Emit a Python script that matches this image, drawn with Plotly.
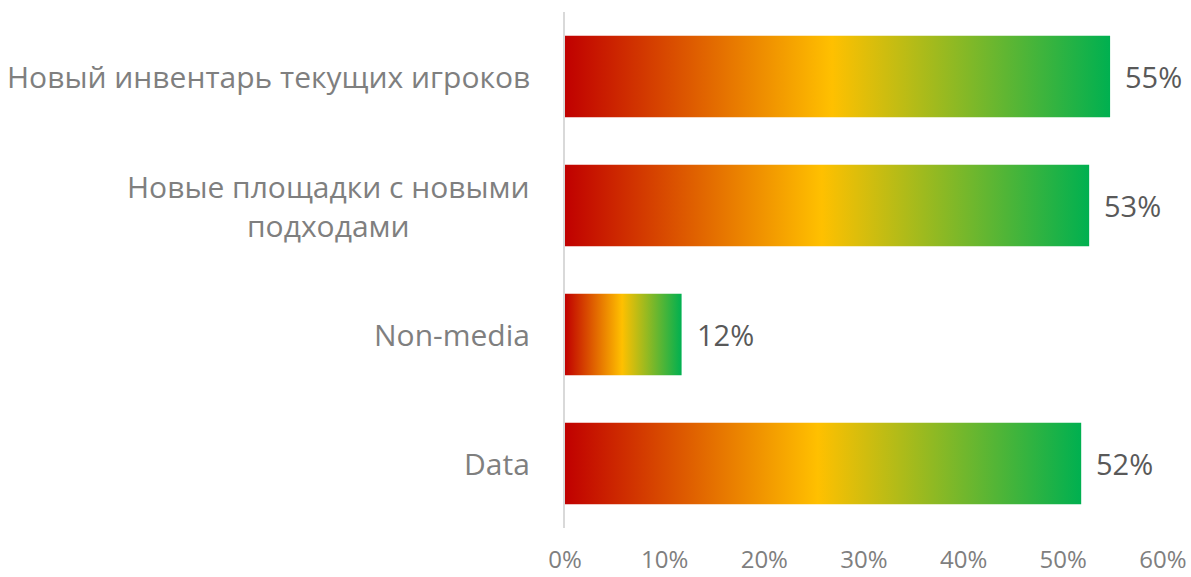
import plotly.graph_objects as go

categories = ["Data", "Non-media", "Новые площадки с новыми<br>подходами", "Новый инвентарь текущих игроков"]
values = [0.518, 0.117, 0.526, 0.547]
tick_vals = [0, 0.1, 0.2, 0.3, 0.4, 0.5, 0.6]
tick_text = ["0%", "10%", "20%", "30%", "40%", "50%", "60%"]

gradient = [[0.0, "#C00000"], [0.49, "#FFC000"], [1.0, "#00B050"]]
half = 0.315
FONT = "Open Sans"

fig = go.Figure()
for i, (cat, v) in enumerate(zip(categories, values)):
    fig.add_trace(go.Scatter(
        x=[0, v, v, 0, 0],
        y=[i - half, i - half, i + half, i + half, i - half],
        mode="lines", fill="toself", line=dict(width=0),
        fillgradient=dict(type="horizontal", colorscale=gradient),
        hoverinfo="skip", showlegend=False,
    ))
    fig.add_annotation(x=v, y=i, text=f"{round(v*100)}%", showarrow=False,
                       xanchor="left", xshift=13,
                       font=dict(family=FONT, size=29, color="#595959"))
    fig.add_annotation(x=0, xref="paper", y=i, text=cat, showarrow=False,
                       xanchor="right", xshift=-33, align="center",
                       font=dict(family=FONT, size=30, color="#7F7F7F"))

fig.update_layout(
    width=1191, height=577,
    margin=dict(l=565, r=28, t=12, b=49),
    paper_bgcolor="white", plot_bgcolor="white",
    font=dict(family=FONT),
    xaxis=dict(range=[0, 0.6001], tickvals=tick_vals, ticktext=tick_text,
               showgrid=False, zeroline=False, showline=False, automargin=False,
               tickfont=dict(family=FONT, size=24, color="#7F7F7F"), ticklen=0,
               ticklabelstandoff=15),
    yaxis=dict(range=[-0.5, 3.5], showticklabels=False, showgrid=False,
               zeroline=False, showline=True, linecolor="#D9D9D9", linewidth=1.5,
               automargin=False),
)
fig.write_html("out.html", config={"displayModeBar": False},
               post_script="document.body.style.margin='0';")
